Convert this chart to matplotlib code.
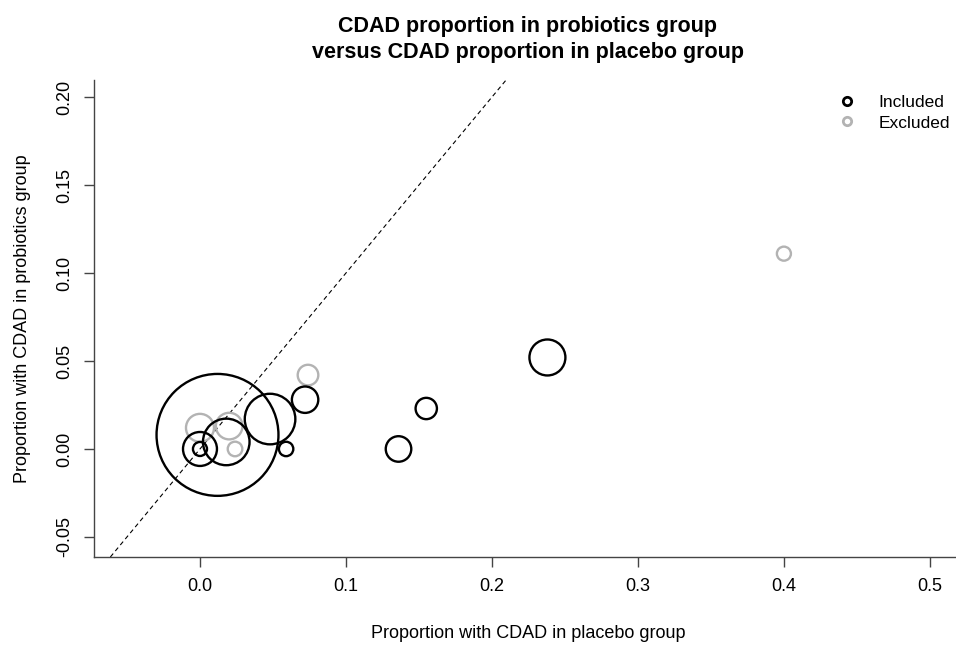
import matplotlib.pyplot as plt
from matplotlib.lines import Line2D

plt.rcParams['font.family'] = ['Liberation Sans', 'DejaVu Sans']

# proportion with CDAD: placebo arm (x) vs probiotics arm (y), one entry per trial
placebo = [0.012, 0.0, 0.0, 0.0, 0.018, 0.020, 0.024, 0.048, 0.074, 0.072, 0.059, 0.155, 0.136, 0.238, 0.400]
probiotics = [0.008, 0.0, 0.0, 0.012, 0.004, 0.013, 0.0, 0.017, 0.042, 0.028, 0.0, 0.023, 0.0, 0.052, 0.111]
n_patients = [2941, 39, 228, 155, 429, 140, 42, 506, 84, 138, 41, 90, 129, 256, 39]
included = [True, True, True, False, True, False, False, True, False, True, True, True, True, True, False]

xticks = [0.0, 0.1, 0.2, 0.3, 0.4, 0.5]
yticks = [-0.05, 0.0, 0.05, 0.10, 0.15, 0.20]

fig = plt.figure(figsize=(9.56, 6.5), dpi=100)
ax = fig.add_axes([94 / 956, 93 / 650, 868 / 956, 477 / 650])

# excluded first, included on top
for flag, col in [(False, '#b3b3b3'), (True, 'black')]:
    xs = [x for x, f in zip(placebo, included) if f == flag]
    ys = [y for y, f in zip(probiotics, included) if f == flag]
    ss = [n * 2.62 for n, f in zip(n_patients, included) if f == flag]
    ax.scatter(xs, ys, s=ss, facecolors='none', edgecolors=col, linewidths=1.7, zorder=3)

ax.axline((0, 0), slope=1, ls=(0, (4, 3)), color='black', lw=0.8, zorder=2)

ax.set_xlim(-0.0726, 0.522)
ax.set_ylim(-0.0614, 0.2097)
ax.set_xticks(xticks)
ax.set_xticklabels(['%.1f' % t for t in xticks])
ax.set_yticks(yticks)
ax.set_yticklabels(['%.2f' % t for t in yticks], rotation=90, va='center')

for side in ['top', 'right']:
    ax.spines[side].set_visible(False)
for side in ['left', 'bottom']:
    ax.spines[side].set_color('#444444')
    ax.spines[side].set_linewidth(1.0)
ax.tick_params(length=7, width=1.0, color='#444444', labelsize=13, pad=8)

ax.set_xlabel('Proportion with CDAD in placebo group', fontsize=13, labelpad=22)
ax.set_ylabel('Proportion with CDAD in probiotics group', fontsize=13, labelpad=18)

fig.text(528 / 956, 1 - 32 / 650, 'CDAD proportion in probiotics group',
         ha='center', va='baseline', fontsize=15.5, fontweight='bold')
fig.text(528 / 956, 1 - 58 / 650, 'versus CDAD proportion in placebo group',
         ha='center', va='baseline', fontsize=15.5, fontweight='bold')

handles = [Line2D([], [], marker='o', ls='', mfc='none', mec='black', mew=2, ms=6),
           Line2D([], [], marker='o', ls='', mfc='none', mec='#b3b3b3', mew=2, ms=6)]
ax.legend(handles, ['Included', 'Excluded'], loc='upper left', frameon=False,
          bbox_to_anchor=(830 / 956, 1 - 95 / 650), bbox_transform=fig.transFigure,
          fontsize=12.5, labelspacing=0.3, handletextpad=0.8, borderpad=0, borderaxespad=0)

fig.savefig('out.png', dpi=100)
